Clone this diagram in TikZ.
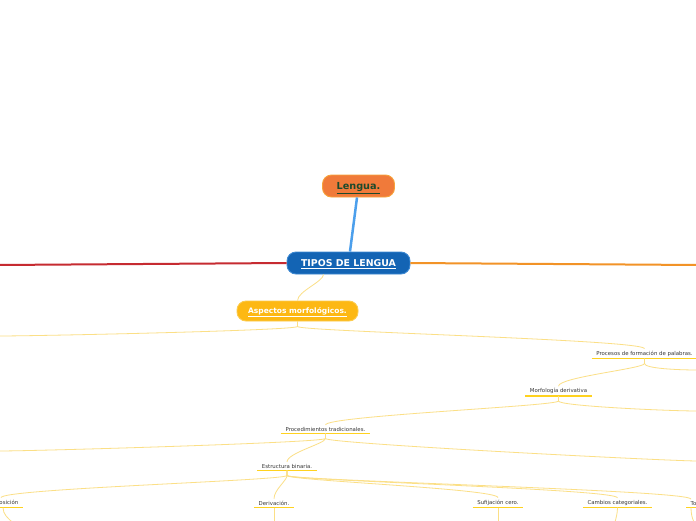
\documentclass[tikz,border=0pt]{standalone}
\usepackage{fontspec}
\setmainfont{DejaVu Sans}
\usepackage{xcolor}
\usepackage{tikz}
\usetikzlibrary{positioning, calc}

\definecolor{tipblue}{HTML}{1364B4}
\definecolor{tipborder}{HTML}{3C88D2}
\definecolor{lenorange}{HTML}{F07A3A}
\definecolor{lenborder}{HTML}{F7A23A}
\definecolor{lengreen}{HTML}{1C4A2C}
\definecolor{aspyellow}{HTML}{FDB813}
\definecolor{aspborder}{HTML}{FCCB4C}
\definecolor{blueline}{HTML}{4C9FEC}
\definecolor{branchred}{HTML}{C62B31}
\definecolor{branchorange}{HTML}{F29327}
\definecolor{linkyellow}{HTML}{FBDF86}
\definecolor{ulyellow}{HTML}{FFD21F}
\definecolor{subgray}{HTML}{383838}

\begin{document}
\begin{tikzpicture}[x=1pt, y=-1pt,
  every node/.style={font=\fontsize{5.4}{6.4}\selectfont},
  pill/.style={draw, rounded corners=9pt, line width=0.9pt, text=white, inner sep=0pt,
               text height=7pt, text depth=0.5pt},
  sub/.style={anchor=south, text=subgray, inner xsep=4.5pt, inner ysep=2pt},
  uline/.style={draw=ulyellow, line width=1.7pt},
  link/.style={draw=linkyellow, line width=0.8pt}]
  \fill[white] (0,0) rectangle (696,520);
  \useasboundingbox (0,0) rectangle (696,520);
  \clip (0,0) rectangle (696,520);

  % central topic and Lengua above it
  \node[pill, fill=tipblue, draw=tipborder, minimum width=123pt, minimum height=22pt,
        font=\bfseries\fontsize{9.4}{11}\selectfont] (tipos) at (348.5,263) {\underline{TIPOS DE LENGUA}};
  \node[pill, fill=lenorange, draw=lenborder, text=lengreen, minimum width=72pt, minimum height=22pt,
        font=\bfseries\fontsize{9.7}{11}\selectfont] (lengua) at (358.5,186) {\underline{Lengua.}};
  \draw[blueline, line width=2.5pt] (lengua) -- (tipos);

  % main branches leaving the page
  \coordinate (redend) at (-2,265);
  \coordinate (orangeend) at (698,265);
  \draw[branchred, line width=2pt] (tipos.west) -- (redend);
  \draw[branchorange, line width=2pt] (tipos.east) -- (orangeend);

  % Aspectos morfologicos
  \node[pill, fill=aspyellow, draw=aspborder, minimum width=121pt, minimum height=20pt, text height=5.5pt,
        font=\bfseries\fontsize{7.5}{9}\selectfont] (aspectos) at (297.5,311) {\underline{Aspectos morfológicos.}};
  \draw[link] ($(tipos.south)+(-25,0)$) .. controls +(0,7) and +(0,-9) .. (aspectos.north);

  % subtopics
  \node[sub] (procesos) at (644.5,358.5) {Procesos de formación de palabras.};
  \node[sub] (morfologia) at (558.5,396) {Morfología derivativa};
  \node[sub] (procedimientos) at (325.5,433.5) {Procedimientos tradicionales.};
  \node[sub] (estructura) at (287,470.5) {Estructura binaria.};
  \node[sub, anchor=south east] (composicion) at (23,507.5) {Composición};
  \node[sub] (derivacion) at (274,507.5) {Derivación.};
  \node[sub] (sufijacion) at (498,507.5) {Sufijación cero.};
  \node[sub] (cambios) at (617.5,507.5) {Cambios categoriales.};
  \node[sub, anchor=south west] (totopic) at (686,507.5) {To};
  \foreach \n in {procesos, morfologia, procedimientos, estructura,
                  composicion, derivacion, sufijacion, cambios, totopic}
    \draw[uline] (\n.south west) -- (\n.south east);

  % free ends at the page edges
  \coordinate (aspleft) at (-2,336);
  \coordinate (proright) at (698,370);
  \coordinate (morright) at (698,411);
  \coordinate (trleft) at (-2,451);
  \coordinate (trright) at (698,461);
  \coordinate (compdown) at (12,522);
  \coordinate (derdown) at (274,522);
  \coordinate (sufdown) at (498,522);
  \coordinate (camdown) at (615,522);
  \coordinate (todown) at (694,522);

  % Aspectos -> ...
  \draw[link] (aspectos.south) -- ++(0,5) .. controls +(0,4) and +(40,0) .. (aspleft);
  \draw[link] (aspectos.south) -- ++(0,5) .. controls +(0,5) and +(0,-9) .. (procesos.north);
  % Procesos -> ...
  \draw[link] (procesos.south) -- ++(0,5) .. controls +(0,5) and +(0,-9) .. (morfologia.north);
  \draw[link] (procesos.south) -- ++(0,5) .. controls +(0,5) and +(-20,0) .. (proright);
  % Morfologia -> ...
  \draw[link] (morfologia.south) -- ++(0,5) .. controls +(0,5) and +(0,-9) .. (procedimientos.north);
  \draw[link] (morfologia.south) -- ++(0,5) .. controls +(0,5) and +(-30,0) .. (morright);
  % Procedimientos -> ...
  \draw[link] (procedimientos.south) -- ++(0,5) .. controls +(0,4) and +(40,0) .. (trleft);
  \draw[link] (procedimientos.south) -- ++(0,5) .. controls +(0,5) and +(0,-9) .. (estructura.north);
  \draw[link] (procedimientos.south) -- ++(0,5) .. controls +(0,5) and +(-30,0) .. (trright);
  % Estructura -> ...
  \draw[link] (estructura.south) -- ++(0,5) .. controls +(0,5) and +(0,-9) .. (composicion.north);
  \draw[link] (estructura.south) -- ++(0,5) .. controls +(0,5) and +(0,-9) .. (derivacion.north);
  \draw[link] (estructura.south) -- ++(0,5) .. controls +(0,5) and +(0,-9) .. (sufijacion.north);
  \draw[link] (estructura.south) -- ++(0,5) .. controls +(0,5) and +(0,-9) .. (cambios.north);
  \draw[link] (estructura.south) -- ++(0,5) .. controls +(0,5) and +(0,-9) .. ($(totopic.north west)+(5,0)$);
  % lines leaving the bottom
  \draw[link] ($(composicion.south east)+(-20,0)$) .. controls +(0,7) and +(-4,-4) .. (compdown);
  \draw[link] (derivacion.south) -- (derdown);
  \draw[link] (sufijacion.south) -- (sufdown);
  \draw[link] (cambios.south) .. controls +(0,6) and +(1,-4) .. (camdown);
  \draw[link] ($(totopic.south west)+(5,0)$) .. controls +(0,6) and +(-2,-4) .. (todown);
\end{tikzpicture}
\end{document}
